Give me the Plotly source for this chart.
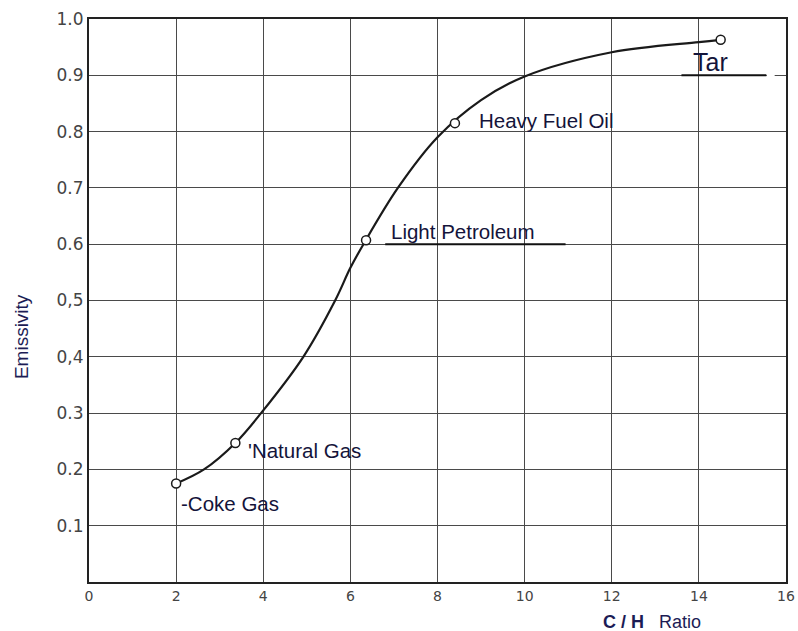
import plotly.graph_objects as go

# Curve (C/H ratio vs emissivity)
curve_x = [2.0, 2.64, 3.36, 3.95, 4.92, 5.65, 6.0, 6.3, 7.09, 8.0, 9.0, 10.0, 12.0, 14.0, 14.5]
curve_y = [0.175, 0.2, 0.247, 0.3, 0.4, 0.5, 0.558, 0.6, 0.7, 0.79, 0.856, 0.898, 0.941, 0.959, 0.963]

# Marked fuels
fuel_names = ["Coke Gas", "Natural Gas", "Light Petroleum", "Heavy Fuel Oil", "Tar"]
fuel_labels = ["-Coke Gas", "'Natural Gas", "Light Petroleum", "Heavy Fuel Oil", "Tar"]
fuel_x = [2.0, 3.36, 6.36, 8.4, 14.5]
fuel_y = [0.175, 0.247, 0.607, 0.815, 0.963]

x_ticks = [0, 2, 4, 6, 8, 10, 12, 14, 16]
y_ticks = [0.1, 0.2, 0.3, 0.4, 0.5, 0.6, 0.7, 0.8, 0.9, 1.0]
y_tick_labels = ["0.1", "0.2", "0.3", "0,4", "0,5", "0.6", "0.7", "0.8", "0.9", "1.0"]

grid_col = "#4a4a4a"
navy = "#1c1c55"
label_font = "Liberation Sans, Arial"

fig = go.Figure()
fig.add_trace(go.Scatter(
    x=curve_x, y=curve_y, mode="lines",
    line=dict(color="#1a1a1a", width=2.2, shape="spline", smoothing=1.0),
    hoverinfo="skip", showlegend=False))
fig.add_trace(go.Scatter(
    x=fuel_x, y=fuel_y, mode="markers",
    marker=dict(symbol="circle", size=9, color="white",
                line=dict(color="#1a1a1a", width=1.5)),
    text=fuel_names, showlegend=False))

# label placement
label_pos = {
    "Coke Gas": (2.09, 0.14, 20.5),
    "Natural Gas": (3.63, 0.233, 20.5),
    "Light Petroleum": (6.92, 0.623, 20.5),
    "Heavy Fuel Oil": (8.93, 0.819, 20.5),
    "Tar": (13.85, 0.923, 25),
}
for name, lab in zip(fuel_names, fuel_labels):
    lx, ly, fs = label_pos[name]
    fig.add_annotation(x=lx, y=ly, text=lab, showarrow=False, xanchor="left",
                       yanchor="middle", borderpad=0,
                       font=dict(family=label_font, size=fs, color="#14143a"))

# leader underlines
fig.add_shape(type="line", x0=6.8, x1=10.94, y0=0.6, y1=0.6,
              line=dict(color="#111", width=2))
fig.add_shape(type="line", x0=13.6, x1=15.55, y0=0.9, y1=0.9,
              line=dict(color="#111", width=2))
fig.add_shape(type="line", x0=15.56, x1=15.74, y0=0.9, y1=0.9,
              line=dict(color="white", width=3))

fig.add_annotation(x=0.0, y=0.435, xref="paper", yref="paper", xshift=-68,
                   xanchor="center", yanchor="middle",
                   text="Emissivity", textangle=-90, showarrow=False,
                   font=dict(family=label_font, size=19, color=navy))
fig.add_annotation(x=0.808, y=0.0, xref="paper", yref="paper", yshift=-40,
                   xanchor="center", yanchor="middle",
                   text="<b>C / H</b>   Ratio", showarrow=False,
                   font=dict(family=label_font, size=18, color=navy))

fig.update_xaxes(range=[0, 16], tickvals=x_ticks, ticktext=[str(v) for v in x_ticks],
                 showgrid=True, gridcolor=grid_col, gridwidth=1.3,
                 showline=True, linecolor="#222", linewidth=2, mirror=True,
                 zeroline=False, ticks="", ticklen=0, automargin=False,
                 tickfont=dict(family="DejaVu Sans", size=14, color="#444"))
fig.update_yaxes(range=[0, 1.0], tickvals=y_ticks, ticktext=y_tick_labels,
                 showgrid=True, gridcolor=grid_col, gridwidth=1.3,
                 showline=True, linecolor="#222", linewidth=2, mirror=True,
                 zeroline=False, ticks="", ticklen=0, automargin=False,
                 tickfont=dict(family="DejaVu Sans", size=17, color="#444"))

fig.update_layout(width=798, height=631, plot_bgcolor="white", paper_bgcolor="white",
                  margin=dict(l=89, r=12, t=19, b=49), showlegend=False)

fig.write_html("out.html", config={"displayModeBar": False},
               post_script="document.body.style.margin='0';document.body.style.overflow='hidden';")
